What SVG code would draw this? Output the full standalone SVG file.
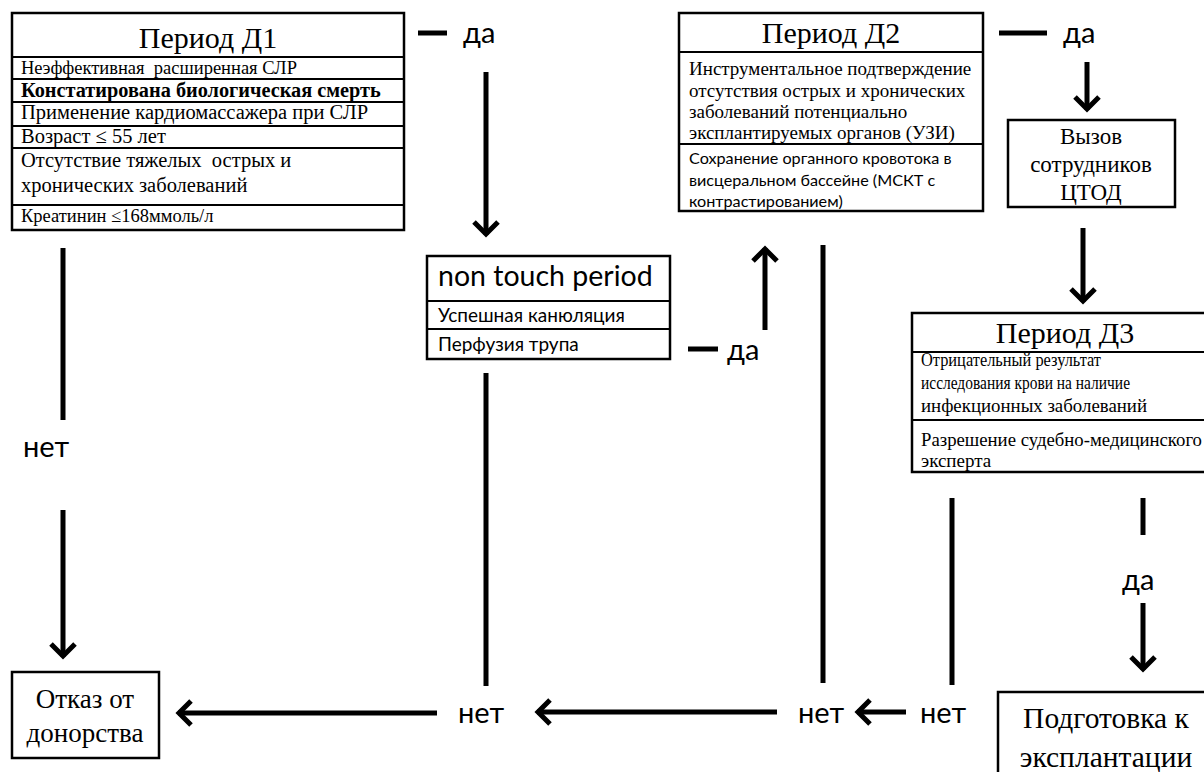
<svg xmlns="http://www.w3.org/2000/svg" width="1204" height="772" viewBox="0 0 1204 772">
<style>
.box{fill:#fff;stroke:#000;stroke-width:2.5}
.dv{stroke:#000;stroke-width:2}
.se{font-family:"Liberation Serif","Times New Roman",serif;fill:#000}
.sa{font-family:Lato,"Noto Sans",sans-serif;fill:#000}
.ln{stroke:#000;stroke-width:5;fill:none}
.lbl{font-family:Lato,"Noto Sans",sans-serif;font-size:29px;fill:#000}
</style>
<defs>
<marker id="ah" markerUnits="userSpaceOnUse" markerWidth="40" markerHeight="40" viewBox="-20 -20 40 40" refX="0" refY="0" orient="auto" overflow="visible">
<path d="M-13,-12 L-1,0 L-13,12" fill="none" stroke="#000" stroke-width="5"/>
</marker>
</defs>
<rect width="1204" height="772" fill="#fff"/>

<g id="d1">
<rect class="box" x="12" y="13" width="392" height="217"/>
<line class="dv" x1="12" y1="57" x2="404" y2="57"/>
<line class="dv" x1="12" y1="79" x2="404" y2="79"/>
<line class="dv" x1="12" y1="102" x2="404" y2="102"/>
<line class="dv" x1="12" y1="126" x2="404" y2="126"/>
<line class="dv" x1="12" y1="148" x2="404" y2="148"/>
<line class="dv" x1="12" y1="205" x2="404" y2="205"/>
<text class="se" x="208" y="48" font-size="30" text-anchor="middle">Период Д1</text>
<text class="se" x="21" y="74" font-size="18.5" xml:space="preserve">Неэффективная  расширенная СЛР</text>
<text class="se" x="21" y="97" font-size="20.3" font-weight="bold">Констатирована биологическая смерть</text>
<text class="se" x="21" y="119" font-size="20.5">Применение кардиомассажера при СЛР</text>
<text class="se" x="21" y="143" font-size="20.5">Возраст ≤ 55 лет</text>
<text class="se" x="21" y="167" font-size="20.5" xml:space="preserve">Отсутствие тяжелых  острых и</text>
<text class="se" x="21" y="192" font-size="20.5">хронических заболеваний</text>
<text class="se" x="21" y="222" font-size="18.5">Креатинин ≤168ммоль/л</text>
</g>

<g id="d2">
<rect class="box" x="679" y="13" width="304" height="198"/>
<line class="dv" x1="679" y1="52" x2="983" y2="52"/>
<line class="dv" x1="679" y1="144" x2="983" y2="144"/>
<text class="se" x="831" y="43" font-size="30" text-anchor="middle">Период Д2</text>
<text class="se" x="689" y="75" font-size="19">Инструментальное подтверждение</text>
<text class="se" x="689" y="97" font-size="19">отсутствия острых и хронических</text>
<text class="se" x="689" y="118" font-size="19">заболеваний потенциально</text>
<text class="se" x="689" y="139" font-size="19">эксплантируемых органов (УЗИ)</text>
<text class="sa" x="689" y="164" font-size="16.2">Сохранение органного кровотока в</text>
<text class="sa" x="689" y="186" font-size="16.2">висцеральном бассейне (МСКТ с</text>
<text class="sa" x="689" y="207" font-size="16.2">контрастированием)</text>
</g>

<g id="call">
<rect class="box" x="1008" y="120" width="167" height="87"/>
<text class="se" x="1091" y="144" font-size="23" text-anchor="middle">Вызов</text>
<text class="se" x="1091" y="172" font-size="23" text-anchor="middle">сотрудников</text>
<text class="se" x="1091" y="200" font-size="23" text-anchor="middle">ЦТОД</text>
</g>

<g id="nontouch">
<rect class="box" x="427" y="256" width="243" height="103"/>
<line class="dv" x1="427" y1="301" x2="670" y2="301"/>
<line class="dv" x1="427" y1="329" x2="670" y2="329"/>
<text class="sa" x="438" y="286" font-size="28.5">non touch period</text>
<text class="sa" x="438" y="322" font-size="19">Успешная канюляция</text>
<text class="sa" x="438" y="351" font-size="19">Перфузия трупа</text>
</g>

<g id="d3">
<rect class="box" x="912" y="313" width="300" height="159"/>
<line class="dv" x1="912" y1="352" x2="1212" y2="352"/>
<line class="dv" x1="912" y1="420" x2="1212" y2="420"/>
<text class="se" x="1065" y="343" font-size="30" text-anchor="middle">Период Д3</text>
<text class="se" x="921" y="366" font-size="18" textLength="180" lengthAdjust="spacingAndGlyphs">Отрицательный результат</text>
<text class="se" x="921" y="389" font-size="18" textLength="209" lengthAdjust="spacingAndGlyphs">исследования крови на наличие</text>
<text class="se" x="921" y="412" font-size="18" textLength="226" lengthAdjust="spacingAndGlyphs">инфекционных заболеваний</text>
<text class="se" x="921" y="446" font-size="19" textLength="281" lengthAdjust="spacingAndGlyphs">Разрешение судебно-медицинского</text>
<text class="se" x="921" y="467" font-size="19">эксперта</text>
</g>

<g id="refuse">
<rect class="box" x="12" y="672" width="147" height="86"/>
<text class="se" x="85" y="708" font-size="27" text-anchor="middle">Отказ от</text>
<text class="se" x="85" y="742" font-size="27" text-anchor="middle">донорства</text>
</g>

<g id="prep">
<rect class="box" x="998" y="692" width="220" height="100"/>
<text class="se" x="1106" y="728" font-size="29.5" text-anchor="middle">Подготовка к</text>
<text class="se" x="1106" y="767" font-size="29.5" text-anchor="middle">эксплантации</text>
</g>

<g id="connectors">
<line class="ln" x1="418" y1="33" x2="447" y2="33"/>
<text class="lbl" x="463" y="43">да</text>
<line class="ln" x1="486" y1="72" x2="486" y2="235" marker-end="url(#ah)"/>

<line class="ln" x1="688" y1="349" x2="718" y2="349"/>
<text class="lbl" x="727" y="360">да</text>
<line class="ln" x1="765" y1="330" x2="765" y2="248" marker-end="url(#ah)"/>

<line class="ln" x1="999" y1="33" x2="1047" y2="33"/>
<text class="lbl" x="1063" y="43">да</text>
<line class="ln" x1="1087" y1="62" x2="1087" y2="110" marker-end="url(#ah)"/>

<line class="ln" x1="1083" y1="228" x2="1083" y2="302" marker-end="url(#ah)"/>

<line class="ln" x1="1143" y1="498" x2="1143" y2="535"/>
<text class="lbl" x="1122" y="590">да</text>
<line class="ln" x1="1143" y1="603" x2="1143" y2="670" marker-end="url(#ah)"/>

<line class="ln" x1="63" y1="248" x2="63" y2="420"/>
<text class="lbl" x="23" y="457">нет</text>
<line class="ln" x1="63" y1="510" x2="63" y2="657" marker-end="url(#ah)"/>

<line class="ln" x1="486" y1="373" x2="486" y2="686"/>
<line class="ln" x1="823" y1="245" x2="823" y2="683"/>
<line class="ln" x1="952" y1="498" x2="952" y2="685"/>

<line class="ln" x1="437" y1="713" x2="178" y2="713" marker-end="url(#ah)"/>
<text class="lbl" x="458" y="723">нет</text>
<line class="ln" x1="777" y1="712" x2="537" y2="712" marker-end="url(#ah)"/>
<text class="lbl" x="798" y="723">нет</text>
<line class="ln" x1="906" y1="712" x2="857" y2="712" marker-end="url(#ah)"/>
<text class="lbl" x="920" y="723">нет</text>
</g>
</svg>
